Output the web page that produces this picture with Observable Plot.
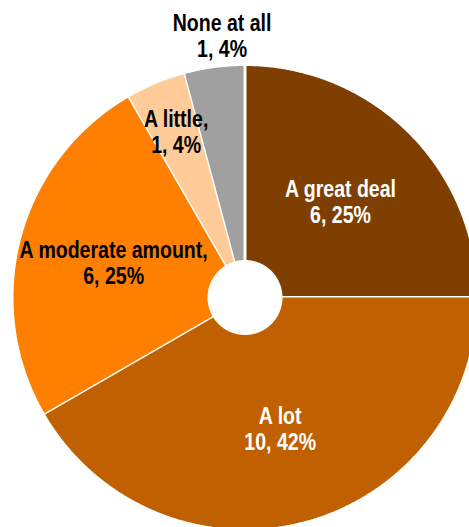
<!DOCTYPE html>
<html>
<head>
<meta charset="utf-8">
<script src="https://cdn.jsdelivr.net/npm/d3@7"></script>
<script src="https://cdn.jsdelivr.net/npm/@observablehq/plot@0.6"></script>
<style>
  html, body { margin: 0; padding: 0; background: #fff; }
  #chart svg { display: block; overflow: hidden; }
</style>
</head>
<body>
<div id="chart"></div>
<script>
// ---- data ----
const categories = ["A great deal", "A lot", "A moderate amount", "A little", "None at all"];
const counts = [6, 10, 6, 1, 1];
const percentLabels = ["25%", "42%", "25%", "4%", "4%"];
const labelNames = ["A great deal", "A lot", "A moderate amount,", "A little,", "None at all"];

// ---- styles / layout ----
const colors = ["#7F3F00", "#C06000", "#FF8000", "#FFCC99", "#A0A0A0"];
const labelColors = ["white", "white", "black", "black", "black"];
const W = 469, H = 527;
const CX = 244.5, CY = 297, R = 233, R0 = 36; // pixels
const labelRadius = [135, 136, 136, 180, 263];   // pixels
const labelAngleShift = [0, 0, 0, 0, 2.5];      // degrees
const narrow = 0.85; // horizontal condensing of the label font

const total = d3.sum(counts);
const pts = [];
const labels = [];
let cum = 0;
categories.forEach((c, i) => {
  const a0 = cum / total * 360;
  cum += counts[i];
  const a1 = cum / total * 360;
  const step = 0.25;
  const n = Math.max(2, Math.ceil((a1 - a0) / step));
  for (let k = 0; k <= n; k++) {
    const a = (a0 + (a1 - a0) * k / n) * Math.PI / 180;
    pts.push({cat: c, x: Math.sin(a), y: Math.cos(a)});
  }
  for (let k = n; k >= 0; k--) {
    const a = (a0 + (a1 - a0) * k / n) * Math.PI / 180;
    pts.push({cat: c, x: Math.sin(a) * R0 / R, y: Math.cos(a) * R0 / R});
  }
  const am = ((a0 + a1) / 2 + labelAngleShift[i]) * Math.PI / 180;
  const lr = labelRadius[i] / R;
  labels.push({
    cat: c,
    x: Math.sin(am) * lr,
    y: Math.cos(am) * lr,
    text: `${labelNames[i]}\n${counts[i]}, ${percentLabels[i]}`,
    color: labelColors[i]
  });
});

const plot = Plot.plot({
  width: W,
  height: H,
  margin: 0,
  x: {domain: [(0 - CX) / R, (W - CX) / R], axis: null},
  y: {domain: [(CY - H) / R, CY / R], axis: null},
  color: {domain: categories, range: colors},
  style: {background: "white"},
  marks: [
    Plot.line(pts, {x: "x", y: "y", z: "cat", fill: "cat", stroke: "white", strokeWidth: 3, strokeLinejoin: "miter", clip: true}),
    Plot.text(labels, {
      x: "x", y: "y", text: "text", fill: d => d.color,
      fontSize: 23, fontWeight: "bold", lineHeight: 1.13,
      fontFamily: "'Liberation Sans', Arial, sans-serif",
      textAnchor: "middle", lineAnchor: "middle",
      className: "pie-label"
    })
  ]
});
// condense the label glyphs horizontally (narrow bold face)
plot.querySelectorAll(".pie-label text").forEach(t => {
  const tr = t.getAttribute("transform") || "";
  t.setAttribute("transform", `${tr} scale(${narrow},1)`);
});
document.getElementById("chart").appendChild(plot);
</script>
</body>
</html>
